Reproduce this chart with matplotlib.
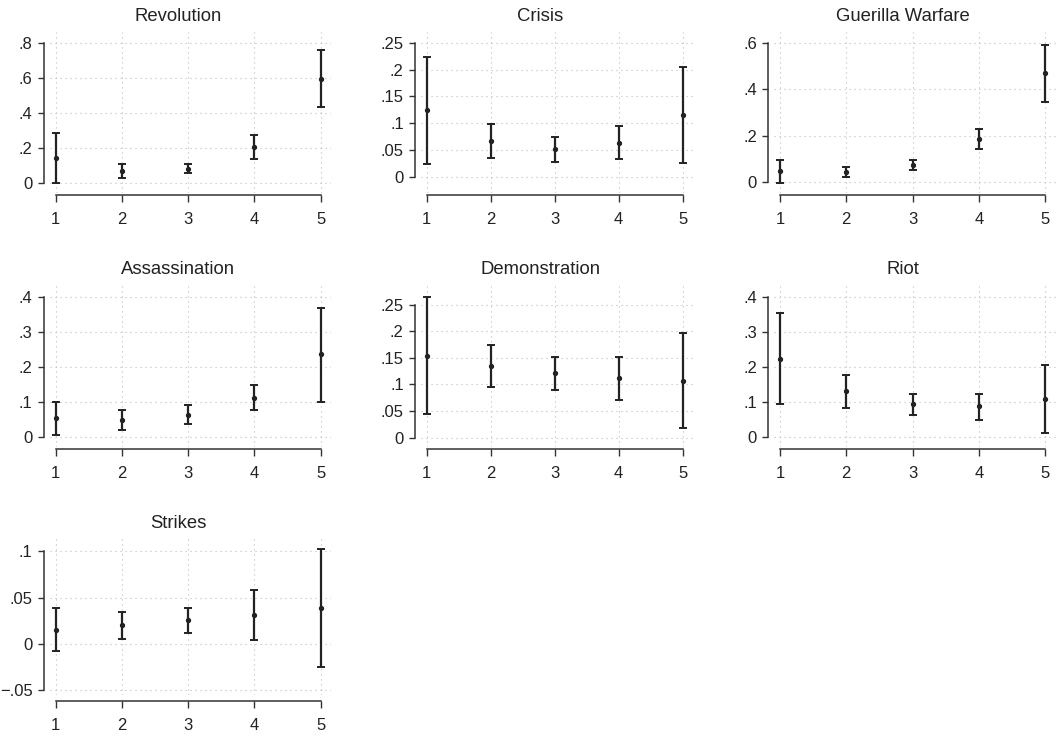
import matplotlib
matplotlib.use("Agg")
import matplotlib.pyplot as plt
import matplotlib.ticker as ticker

plt.rcParams['font.family'] = ['Liberation Sans', 'DejaVu Sans']

x = [1, 2, 3, 4, 5]

revolution_est = [0.139, 0.069, 0.078, 0.206, 0.594]
revolution_lo = [0.000, 0.029, 0.055, 0.135, 0.433]
revolution_hi = [0.282, 0.105, 0.105, 0.273, 0.758]

crisis_est = [0.124, 0.066, 0.052, 0.063, 0.115]
crisis_lo = [0.024, 0.034, 0.027, 0.033, 0.025]
crisis_hi = [0.224, 0.098, 0.075, 0.094, 0.205]

guerilla_est = [0.047, 0.043, 0.074, 0.186, 0.468]
guerilla_lo = [-0.003, 0.023, 0.052, 0.142, 0.346]
guerilla_hi = [0.096, 0.066, 0.096, 0.230, 0.590]

assassination_est = [0.054, 0.049, 0.064, 0.113, 0.236]
assassination_lo = [0.0075, 0.021, 0.037, 0.078, 0.101]
assassination_hi = [0.101, 0.077, 0.091, 0.148, 0.369]

demonstration_est = [0.154, 0.135, 0.121, 0.112, 0.107]
demonstration_lo = [0.044, 0.095, 0.090, 0.071, 0.019]
demonstration_hi = [0.265, 0.174, 0.151, 0.152, 0.196]

riot_est = [0.223, 0.132, 0.094, 0.088, 0.109]
riot_lo = [0.094, 0.083, 0.063, 0.049, 0.012]
riot_hi = [0.353, 0.178, 0.122, 0.124, 0.206]

strikes_est = [0.0151, 0.0199, 0.0253, 0.0314, 0.0386]
strikes_lo = [-0.0082, 0.0054, 0.0119, 0.0043, -0.0252]
strikes_hi = [0.0383, 0.034, 0.0383, 0.0584, 0.102]

titles = ["Revolution", "Crisis", "Guerilla Warfare", "Assassination",
          "Demonstration", "Riot", "Strikes"]
ests = [revolution_est, crisis_est, guerilla_est, assassination_est,
        demonstration_est, riot_est, strikes_est]
los = [revolution_lo, crisis_lo, guerilla_lo, assassination_lo,
       demonstration_lo, riot_lo, strikes_lo]
his = [revolution_hi, crisis_hi, guerilla_hi, assassination_hi,
       demonstration_hi, riot_hi, strikes_hi]
yticks = [
    [0, 0.2, 0.4, 0.6, 0.8],
    [0, 0.05, 0.1, 0.15, 0.2, 0.25],
    [0, 0.2, 0.4, 0.6],
    [0, 0.1, 0.2, 0.3, 0.4],
    [0, 0.05, 0.1, 0.15, 0.2, 0.25],
    [0, 0.1, 0.2, 0.3, 0.4],
    [-0.05, 0, 0.05, 0.1],
]
ylims = [(-0.056, 0.864), (-0.0295, 0.271), (-0.044, 0.648),
         (-0.0267, 0.4333), (-0.0169, 0.287), (-0.0267, 0.4333),
         (-0.0554, 0.114)]

# layout in pixels (figure 1060 x 738)
W, H = 1060, 738
col_left = [49.7, 420.9, 774]
col_right = [331.3, 692.9, 1055.9]
row_top = [31.5, 285, 538.3]
row_bottom = [192.5, 446.7, 695]
xspine_out = [1.8, 1.9, 4.3]
title_x = [0.457, 0.438, 0.456]


def stata_fmt(v, pos=None):
    if abs(v) < 1e-12:
        return "0"
    s = ("%g" % abs(v)).lstrip("0")
    return ("\u2212" if v < 0 else "") + s


ink = "#222222"
fig = plt.figure(figsize=(W / 100, H / 100), dpi=100)

for i, title in enumerate(titles):
    r, c = divmod(i, 3)
    rect = [col_left[c] / W, 1 - row_bottom[r] / H,
            (col_right[c] - col_left[c]) / W, (row_bottom[r] - row_top[r]) / H]
    ax = fig.add_axes(rect)
    est, lo, hi = ests[i], los[i], his[i]
    yerr = [[e - l for e, l in zip(est, lo)], [h - e for e, h in zip(est, hi)]]
    ax.errorbar(x, est, yerr=yerr, fmt='o', color=ink, ms=2.8,
                elinewidth=1.6, capsize=3, capthick=1.4, zorder=3)
    ax.set_xlim(0.91, 5.16)
    ax.set_ylim(*ylims[i])
    ax.set_xticks(x)
    ax.set_yticks(yticks[i])
    ax.yaxis.set_major_formatter(ticker.FuncFormatter(stata_fmt))
    ax.grid(True, linestyle=(0, (1, 3.5)), color='#bdbdbd', linewidth=0.8)
    ax.set_axisbelow(True)
    for side in ['top', 'right']:
        ax.spines[side].set_visible(False)
    ax.spines['left'].set_position(('outward', 4.3))
    ax.spines['bottom'].set_position(('outward', xspine_out[r]))
    ax.spines['left'].set_bounds(yticks[i][0], yticks[i][-1])
    ax.spines['bottom'].set_bounds(1, 5)
    for side in ['left', 'bottom']:
        ax.spines[side].set_color('#333333')
        ax.spines[side].set_linewidth(1.1)
    ax.tick_params(axis='both', direction='out', width=1.0,
                   color='#333333', labelsize=12, labelcolor='#222222')
    ax.tick_params(axis='y', length=4.5, pad=3.5)
    ax.tick_params(axis='x', length=5, pad=7)
    ax.annotate(title, xy=(title_x[c], 1), xycoords='axes fraction',
                xytext=(0, 11), textcoords='offset points',
                ha='center', va='center', fontsize=13.3, color='#222222')

fig.savefig("out.png", dpi=100)
